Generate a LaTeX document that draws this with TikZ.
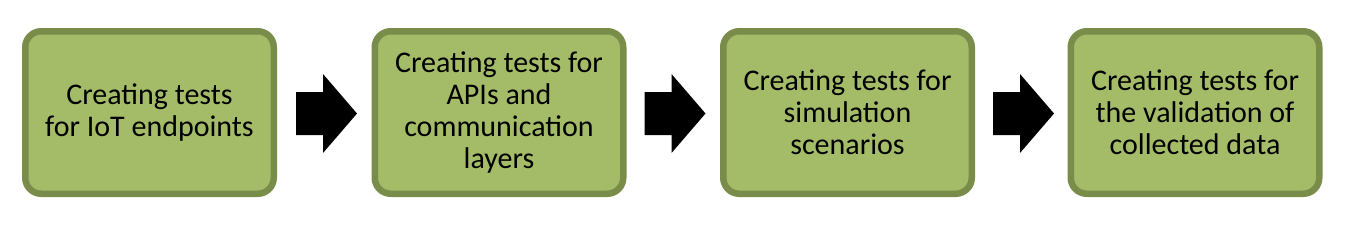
\documentclass[tikz,border=0pt]{standalone}
\usepackage{fontspec}
\setmainfont{Carlito}
\definecolor{boxfill}{RGB}{164,188,104}
\definecolor{boxline}{RGB}{122,140,74}
\begin{document}
\begin{tikzpicture}[x=1pt,y=-1pt,
  stepbox/.style={draw=boxline,fill=boxfill,line width=6.5pt,rounded corners=16pt,
    minimum width=248.5pt,minimum height=162.5pt,inner sep=0pt,align=center,
    font=\fontsize{30}{32}\selectfont},
  flowarrow/.style={fill=black,draw=none}]
\useasboundingbox (0,0) rectangle (1360,234);
\node[stepbox] (b1) at (149.5,112.5) {Creating tests\\for IoT endpoints};
\node[stepbox] (b2) at (499,112.5) {Creating tests for\\APIs and\\communication\\layers};
\node[stepbox] (b3) at (847.5,112.5) {Creating tests for\\simulation\\scenarios};
\node[stepbox] (b4) at (1195,112.5) {Creating tests for\\the validation of\\collected data};
\foreach \n/\cx in {a1/326.5,a2/675,a3/1023.5}{
  \coordinate (\n) at (\cx,113.5);
  \fill[flowarrow] (\n) ++(-30.5,-21.5) -- ++(27,0) -- ++(0,-18) -- ++(34,39.5)
    -- ++(-34,39.5) -- ++(0,-18) -- ++(-27,0) -- cycle;
}
\end{tikzpicture}
\end{document}
